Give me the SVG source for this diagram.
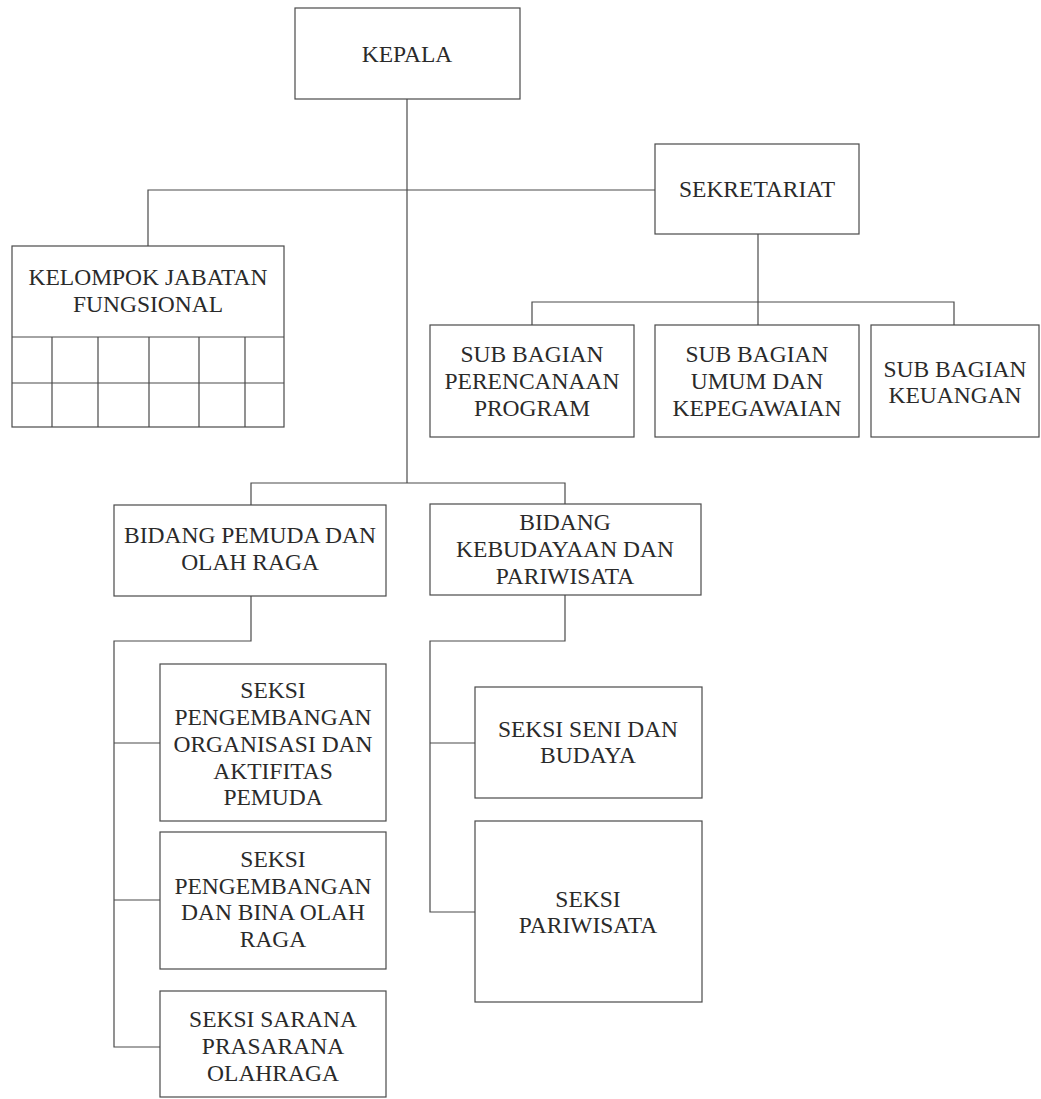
<svg xmlns="http://www.w3.org/2000/svg" width="1041" height="1099" viewBox="0 0 1041 1099">
<style>
.box{fill:none;stroke:#4a4a4a;stroke-width:1.2}
.ln{fill:none;stroke:#4a4a4a;stroke-width:1.2}
text{font-family:"Liberation Serif","Times New Roman",serif;font-size:23.5px;fill:#2a2a2a;text-anchor:middle}
</style>
<rect width="1041" height="1099" fill="#ffffff"/>
<g id="connectors">
<path class="ln" d="M407,99 V483"/>
<path class="ln" d="M148,246 V190 H655"/>
<path class="ln" d="M758,234 V302"/>
<path class="ln" d="M532,325 V302 H954 V325"/>
<path class="ln" d="M758,302 V325"/>
<path class="ln" d="M251,505 V483 H565 V504"/>
<path class="ln" d="M251,596 V641 H114 V1047 H160"/>
<path class="ln" d="M114,743 H160"/>
<path class="ln" d="M114,900 H160"/>
<path class="ln" d="M565,595 V641 H430 V912 H475"/>
<path class="ln" d="M430,743 H475"/>
</g>
<g id="kepala">
<rect class="box" x="295" y="8" width="225" height="91"/>
<text x="407" y="62">KEPALA</text>
</g>
<g id="sekretariat">
<rect class="box" x="655" y="144" width="204" height="90"/>
<text x="757" y="197">SEKRETARIAT</text>
</g>
<g id="kelompok">
<rect class="box" x="12" y="246" width="272" height="181"/>
<path class="ln" d="M12,337 H284 M12,383 H284 M52,337 V427 M98,337 V427 M149,337 V427 M199,337 V427 M245,337 V427"/>
<text x="148" y="285">KELOMPOK JABATAN</text>
<text x="148" y="312">FUNGSIONAL</text>
</g>
<g id="subbag-perencanaan">
<rect class="box" x="430" y="325" width="204" height="112"/>
<text x="532" y="362">SUB BAGIAN</text>
<text x="532" y="389">PERENCANAAN</text>
<text x="532" y="416">PROGRAM</text>
</g>
<g id="subbag-umum">
<rect class="box" x="655" y="325" width="204" height="112"/>
<text x="757" y="362">SUB BAGIAN</text>
<text x="757" y="389">UMUM DAN</text>
<text x="757" y="416">KEPEGAWAIAN</text>
</g>
<g id="subbag-keuangan">
<rect class="box" x="871" y="325" width="168" height="112"/>
<text x="955" y="377">SUB BAGIAN</text>
<text x="955" y="403">KEUANGAN</text>
</g>
<g id="bidang-pemuda">
<rect class="box" x="114" y="505" width="272" height="91"/>
<text x="250" y="543">BIDANG PEMUDA DAN</text>
<text x="250" y="570">OLAH RAGA</text>
</g>
<g id="bidang-kebudayaan">
<rect class="box" x="430" y="504" width="271" height="91"/>
<text x="565" y="530">BIDANG</text>
<text x="565" y="557">KEBUDAYAAN DAN</text>
<text x="565" y="584">PARIWISATA</text>
</g>
<g id="seksi-organisasi">
<rect class="box" x="160" y="664" width="226" height="157"/>
<text x="273" y="698">SEKSI</text>
<text x="273" y="725">PENGEMBANGAN</text>
<text x="273" y="752">ORGANISASI DAN</text>
<text x="273" y="779">AKTIFITAS</text>
<text x="273" y="805">PEMUDA</text>
</g>
<g id="seksi-bina">
<rect class="box" x="160" y="832" width="226" height="137"/>
<text x="273" y="867">SEKSI</text>
<text x="273" y="894">PENGEMBANGAN</text>
<text x="273" y="920">DAN BINA OLAH</text>
<text x="273" y="947">RAGA</text>
</g>
<g id="seksi-sarana">
<rect class="box" x="160" y="991" width="226" height="106"/>
<text x="273" y="1027">SEKSI SARANA</text>
<text x="273" y="1054">PRASARANA</text>
<text x="273" y="1081">OLAHRAGA</text>
</g>
<g id="seksi-seni">
<rect class="box" x="475" y="687" width="227" height="111"/>
<text x="588" y="737">SEKSI SENI DAN</text>
<text x="588" y="763">BUDAYA</text>
</g>
<g id="seksi-pariwisata">
<rect class="box" x="475" y="821" width="227" height="181"/>
<text x="588" y="907">SEKSI</text>
<text x="588" y="933">PARIWISATA</text>
</g>
</svg>
